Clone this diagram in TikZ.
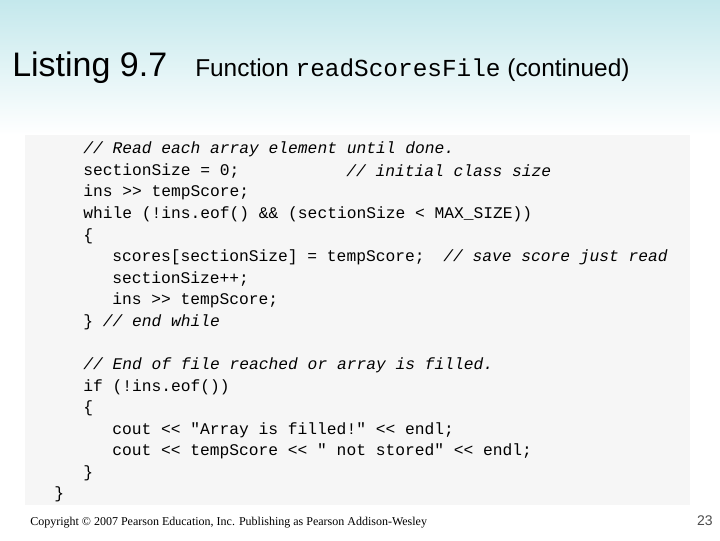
\documentclass[tikz,border=0pt]{standalone}
\usepackage{fontspec}
\setmainfont{Liberation Sans}
\newfontfamily\codefont{Liberation Mono}
\newfontfamily\notefont{Liberation Serif}
\definecolor{titlecyan}{RGB}{196,232,236}
\definecolor{codebg}{RGB}{246,246,246}
\begin{document}
\begin{tikzpicture}[x=0.75pt,y=0.75pt,yscale=-1,xscale=1]
        \tikzset{code/.style={anchor=west,inner sep=0pt,font=\codefont\fontsize{12.2}{14}\selectfont}}
        % Background
        \useasboundingbox (0,0) rectangle (720,540);
        \fill [white] (0,0) rectangle (720,540);
        \shade [top color=titlecyan,bottom color=white] (0,0) rectangle (720,135);
        \fill [codebg] (25,135) rectangle (690,505);
        % Title
        \node (title) [anchor=west,inner sep=0pt,font=\fontsize{25.5}{28}\selectfont] at (12,68) {Listing 9.7};
        \node (subtitle) [anchor=west,inner sep=0pt,font=\fontsize{18.3}{22}\selectfont] at (195,70) {Function {\codefont readScoresFile} (continued)};
        % Code
        \node (l1) [code] at (83,149) {\itshape // Read each array element until done.};
        \node (l2) [code] at (83,171) {sectionSize = 0;};
        \node (l2c) [code] at (346,171) {\itshape // initial class size};
        \node (l3) [code] at (83,192) {ins >> tempScore;};
        \node (l4) [code] at (83,214) {while (!ins.eof() \&\& (sectionSize < MAX\_SIZE))};
        \node (l5) [code] at (83,236) {\{};
        \node (l6) [code] at (112,257) {scores[sectionSize] = tempScore;};
        \node (l6c) [code] at (443,257) {\itshape // save score just read};
        \node (l7) [code] at (112,279) {sectionSize++;};
        \node (l8) [code] at (112,300) {ins >> tempScore;};
        \node (l9) [code] at (83,322) {\} \itshape // end while};
        \node (l10) [code] at (83,365) {\itshape // End of file reached or array is filled.};
        \node (l11) [code] at (83,387) {if (!ins.eof())};
        \node (l12) [code] at (83,408) {\{};
        \node (l13) [code] at (112,430) {cout << "Array is filled!" << endl;};
        \node (l14) [code] at (112,451) {cout << tempScore << " not stored" << endl;};
        \node (l15) [code] at (83,473) {\}};
        \node (l16) [code] at (54,494) {\}};
        % Footer
        \node (copy) [anchor=west,inner sep=0pt,font=\notefont\fontsize{9}{11}\selectfont] at (30,523) {Copyright \textcopyright{} 2007 Pearson Education, Inc. Publishing as Pearson Addison-Wesley};
        \node (page) [anchor=east,inner sep=0pt,font=\fontsize{10.5}{12}\selectfont,text=black!70] at (713,521) {23};
    \end{tikzpicture}
\end{document}
